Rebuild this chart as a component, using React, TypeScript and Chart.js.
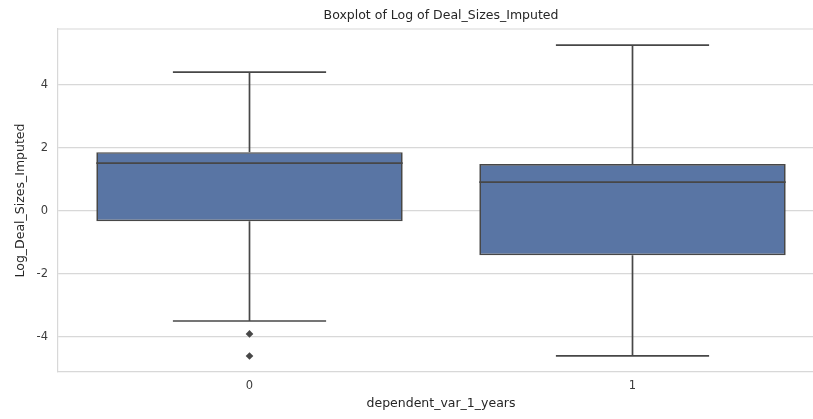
import React, { useEffect, useRef } from "react";
import { Chart, registerables } from "chart.js";

Chart.register(...registerables);

// ---- data ----
const categories = [0, 1];
const categoryLabels = ["0", "1"];
const q1 = [-0.32, -1.4];
const median = [1.52, 0.92];
const q3 = [1.87, 1.49];
const whiskerLow = [-3.49, -4.6];
const whiskerHigh = [4.41, 5.27];
const outliers: number[][] = [[-3.9, -4.6], []];
const yTicks = [-4, -2, 0, 2, 4];

const title = "Boxplot of Log of Deal_Sizes_Imputed";
const xTitle = "dependent_var_1_years";
const yTitle = "Log_Deal_Sizes_Imputed";

// ---- style ----
const BOX_WIDTH = 0.8;
const CAP_WIDTH = 0.4;
const BOX_FILL = "#5975a4";
const LINE = "#474747";
const GRID = "#d8d8d8";
const TEXT = "#262626";
const TICK_TEXT = "#3c3c3c";
const FONT = "'DejaVu Sans', 'Liberation Sans', Arial, sans-serif";

const framePlugin = {
  id: "frameTop",
  beforeDatasetsDraw(chart: any) {
    const { ctx, chartArea } = chart;
    ctx.save();
    ctx.strokeStyle = GRID;
    ctx.lineWidth = 1.2;
    ctx.beginPath();
    ctx.moveTo(chartArea.left, chartArea.top);
    ctx.lineTo(chartArea.right, chartArea.top);
    ctx.stroke();
    ctx.restore();
  },
};

export default function App() {
  const ref = useRef<HTMLCanvasElement>(null);

  useEffect(() => {
    if (!ref.current) return;
    const lineDs = (data: { x: number; y: number }[]) => ({
      type: "line" as const,
      data,
      borderColor: LINE,
      borderWidth: 1.7,
      pointRadius: 0,
      pointHoverRadius: 0,
      fill: false,
      tension: 0,
      order: 0,
    });

    const datasets: any[] = [
      {
        type: "bar",
        data: categories.map((c, i) => ({ x: c, y: [q1[i], q3[i]] })),
        backgroundColor: BOX_FILL,
        borderColor: LINE,
        borderWidth: 1.7,
        borderSkipped: false,
        barPercentage: BOX_WIDTH,
        categoryPercentage: 1,
        order: 1,
      },
    ];
    categories.forEach((c, i) => {
      datasets.push(lineDs([{ x: c - BOX_WIDTH / 2, y: median[i] }, { x: c + BOX_WIDTH / 2, y: median[i] }]));
      datasets.push(lineDs([{ x: c, y: q3[i] }, { x: c, y: whiskerHigh[i] }]));
      datasets.push(lineDs([{ x: c, y: q1[i] }, { x: c, y: whiskerLow[i] }]));
      datasets.push(lineDs([{ x: c - CAP_WIDTH / 2, y: whiskerHigh[i] }, { x: c + CAP_WIDTH / 2, y: whiskerHigh[i] }]));
      datasets.push(lineDs([{ x: c - CAP_WIDTH / 2, y: whiskerLow[i] }, { x: c + CAP_WIDTH / 2, y: whiskerLow[i] }]));
      if (outliers[i].length) {
        datasets.push({
          type: "line",
          data: outliers[i].map((v) => ({ x: c, y: v })),
          showLine: false,
          pointStyle: "rectRot",
          pointRadius: 3.8,
          pointBackgroundColor: LINE,
          pointBorderColor: LINE,
          pointBorderWidth: 0,
          order: 0,
        });
      }
    });

    const chart = new Chart(ref.current, {
      type: "bar",
      data: { datasets },
      plugins: [framePlugin],
      options: {
        animation: false,
        responsive: true,
        maintainAspectRatio: false,
        layout: { padding: { left: 0, right: 6, top: 0, bottom: 0 } },
        plugins: {
          legend: { display: false },
          tooltip: { enabled: false },
          title: {
            display: true,
            text: title,
            fullSize: false,
            color: TEXT,
            font: { family: FONT, size: 12.5, weight: "normal", lineHeight: 1.2 },
            padding: { top: 8.5, bottom: 5.5 },
          },
        },
        scales: {
          x: {
            type: "linear",
            min: -0.5,
            max: 1.5,
            offset: false,
            afterBuildTicks: (s: any) => {
              s.ticks = categories.map((v) => ({ value: v }));
            },
            afterFit: (s: any) => {
              s.height = 47;
            },
            ticks: {
              color: TICK_TEXT,
              font: { family: FONT, size: 11.5 },
              padding: 7,
              callback: (v: any) => categoryLabels[categories.indexOf(Number(v))] ?? "",
            },
            grid: { display: false, drawTicks: false, offset: false },
            border: { display: true, color: GRID, width: 1.2 },
            title: {
              display: true,
              text: xTitle,
              color: TEXT,
              font: { family: FONT, size: 12.5 },
              padding: { top: 4, bottom: 8 },
            },
          },
          y: {
            type: "linear",
            min: -5.11,
            max: 5.78,
            afterBuildTicks: (s: any) => {
              s.ticks = yTicks.map((v) => ({ value: v }));
            },
            afterFit: (s: any) => {
              s.width = 58;
            },
            ticks: {
              color: TICK_TEXT,
              font: { family: FONT, size: 11.5 },
              padding: 10,
            },
            grid: { color: GRID, lineWidth: 1.2, drawTicks: false },
            border: { display: true, color: GRID, width: 1.2 },
            title: {
              display: true,
              text: yTitle,
              color: TEXT,
              font: { family: FONT, size: 12.5 },
              padding: { top: 13, bottom: 4 },
            },
          },
        },
      },
    } as any);
    return () => chart.destroy();
  }, []);

  return (
    <div style={{ position: "fixed", left: 0, top: 0, width: 813, height: 419, overflow: "hidden", background: "#fff" }}>
      <div style={{ position: "relative", width: 830, height: 419 }}>
        <canvas ref={ref} />
      </div>
    </div>
  );
}
